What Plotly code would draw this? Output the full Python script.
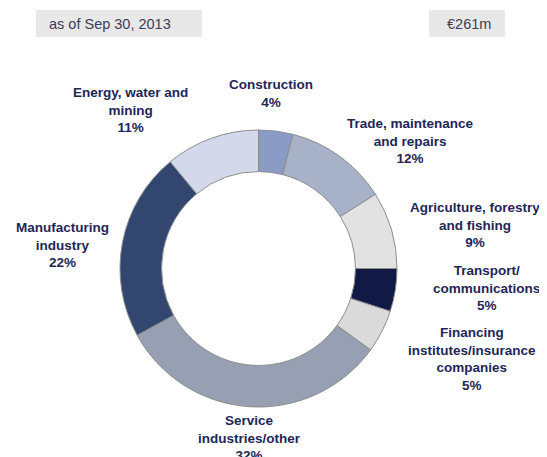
import plotly.graph_objects as go

categories = ["Construction", "Trade, maintenance<br>and repairs", "Agriculture, forestry<br>and fishing",
              "Transport/<br>communications", "Financing<br>institutes/insurance<br>companies",
              "Service<br>industries/other", "Manufacturing<br>industry", "Energy, water and<br>mining"]
shares = [4, 12, 9, 5, 5, 32, 22, 11]
colors = ["#8a9cc6", "#a7b1c7", "#e2e2e2", "#111a45", "#dadada", "#97a0b3", "#334670", "#d3d9ea"]
label_pos = [(271, 84), (410, 123), (475, 207), (486, 270), (472, 332), (249, 420), (62, 227), (130, 92)]

OFF = 8  # page body margin
W, H = 547 - OFF, 457 - OFF


def px(x):
    return (x - OFF) / W


def py(y):
    return 1 - (y - OFF) / H


cx, cy, r = 258.5, 268.5, 138.5
FONT = "Liberation Sans, Arial"
TXT = "#1e2657"

fig = go.Figure(go.Pie(
    values=shares, labels=[c.replace("<br>", " ") for c in categories],
    sort=False, direction="clockwise", rotation=0, hole=0.70,
    marker=dict(colors=colors, line=dict(color="#8c8c8c", width=1)),
    textinfo="none", hoverinfo="label+percent", showlegend=False,
    domain=dict(x=[px(cx - r), px(cx + r)], y=[py(cy + r), py(cy - r)]),
))

for cat, val, (x, y) in zip(categories, shares, label_pos):
    fig.add_annotation(x=px(x), y=py(y - 9), xref="paper", yref="paper",
                       text=f"<b>{cat}<br>{val}%</b>", showarrow=False, xanchor="center", yanchor="top",
                       align="center", font=dict(family=FONT, size=13.5, color=TXT))

# header boxes
for x0, x1 in [(36, 202), (429, 505)]:
    fig.add_shape(type="rect", xref="paper", yref="paper", x0=px(x0), x1=px(x1), y0=py(37), y1=py(10),
                  fillcolor="#e8e8e8", line=dict(width=0), layer="below")
fig.add_annotation(x=px(47), y=py(23.5), xref="paper", yref="paper", text="as of Sep 30, 2013",
                   showarrow=False, xanchor="left", yanchor="middle",
                   font=dict(family=FONT, size=14.5, color="#3a3e55"))
fig.add_annotation(x=px(493), y=py(23.5), xref="paper", yref="paper", text="€261m",
                   showarrow=False, xanchor="right", yanchor="middle",
                   font=dict(family=FONT, size=14.5, color="#3a3e55"))

fig.update_layout(width=W, height=H, margin=dict(l=0, r=0, t=0, b=0),
                  paper_bgcolor="white", plot_bgcolor="white")
fig.write_html("out.html")
